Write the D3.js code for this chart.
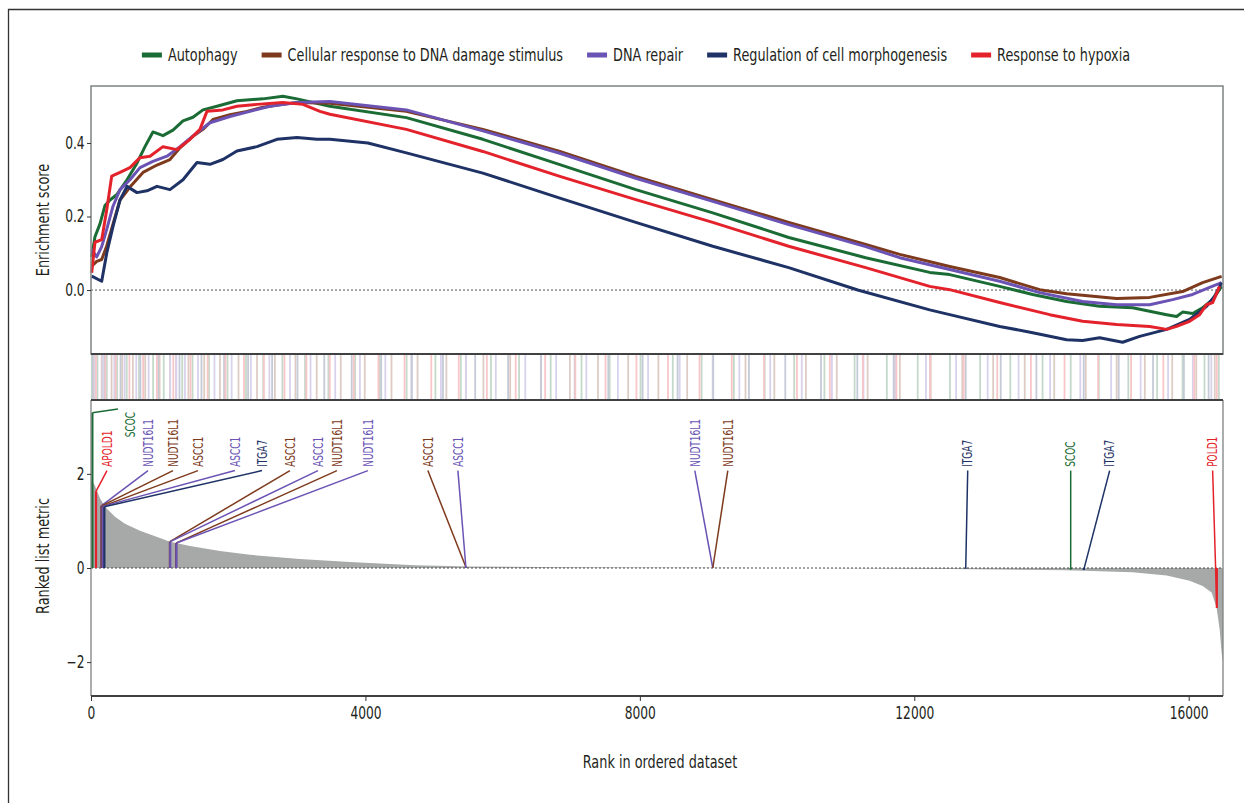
<!DOCTYPE html>
<html>
<head>
<meta charset="utf-8">
<script src="https://cdnjs.cloudflare.com/ajax/libs/d3/7.8.5/d3.min.js"></script>
<style>
  body { margin: 0; background: #fff; }
  svg text { font-family: "Liberation Sans Narrow", "DejaVu Sans Condensed", "Roboto Condensed", sans-serif; }
</style>
</head>
<body>
<div id="chart"></div>
<script>
// gene sets (legend order)
var setNames = ["Autophagy", "Cellular response to DNA damage stimulus", "DNA repair",
                "Regulation of cell morphogenesis", "Response to hypoxia"];
var setColors = ["#1b6b35", "#7d3a1c", "#6a53b4", "#1e3266", "#e4222b"];

// running enrichment score as [rank, score]
var esAutophagy = [[10,0.09],[58,0.145],[131,0.18],[204,0.23],[277,0.245],[379,0.26],[525,0.30],[670,0.345],
  [787,0.39],[903,0.43],[1049,0.42],[1195,0.435],[1341,0.46],[1486,0.47],[1632,0.49],[1836,0.50],[2127,0.515],
  [2506,0.52],[2798,0.527],[3002,0.52],[3482,0.50],[4597,0.469],[5712,0.41],[6834,0.341],[7941,0.273],
  [9063,0.21],[10170,0.143],[11292,0.088],[12225,0.048],[12516,0.042],[13245,0.01],[13726,-0.012],
  [14221,-0.031],[14702,-0.044],[15183,-0.048],[15678,-0.067],[15824,-0.072],[15911,-0.06],[16057,-0.064],
  [16203,-0.048],[16349,-0.026],[16480,0.01]];
var esCellular = [[10,0.065],[83,0.078],[156,0.083],[229,0.12],[321,0.18],[423,0.245],[568,0.28],[758,0.32],
  [962,0.34],[1151,0.355],[1297,0.387],[1486,0.418],[1632,0.437],[1778,0.464],[2025,0.477],[2273,0.486],
  [2506,0.497],[2798,0.505],[3002,0.51],[3482,0.508],[4597,0.486],[5712,0.437],[6834,0.377],[7941,0.309],
  [9063,0.246],[10170,0.184],[11292,0.124],[11788,0.097],[12516,0.064],[13245,0.034],[13828,0.001],
  [14221,-0.01],[14950,-0.023],[15431,-0.02],[15911,-0.004],[16203,0.02],[16480,0.037]];
var esDnaRepair = [[10,0.11],[83,0.09],[156,0.118],[229,0.165],[321,0.228],[423,0.273],[568,0.30],[714,0.333],
  [903,0.35],[1107,0.364],[1297,0.39],[1545,0.428],[1734,0.455],[2025,0.472],[2317,0.486],[2608,0.50],
  [3002,0.51],[3482,0.513],[4597,0.49],[5712,0.433],[6834,0.372],[7941,0.304],[9063,0.241],[10170,0.178],
  [11292,0.118],[11788,0.088],[12516,0.056],[13245,0.024],[13828,-0.007],[14454,-0.031],[14950,-0.04],
  [15431,-0.04],[15766,-0.026],[16057,-0.012],[16305,0.007],[16480,0.02]];
var esRegulation = [[10,0.038],[156,0.024],[229,0.10],[321,0.173],[423,0.245],[525,0.282],[670,0.265],[816,0.27],
  [962,0.282],[1151,0.273],[1341,0.30],[1545,0.347],[1734,0.342],[1923,0.355],[2127,0.378],[2419,0.39],
  [2710,0.41],[3002,0.415],[3293,0.41],[3482,0.41],[4036,0.40],[4597,0.373],[5712,0.318],[6834,0.25],
  [7941,0.184],[9063,0.119],[10170,0.061],[11176,0.0],[12225,-0.054],[12516,-0.067],[13245,-0.099],
  [13726,-0.116],[14221,-0.135],[14454,-0.137],[14702,-0.13],[15037,-0.142],[15285,-0.126],[15678,-0.107],
  [16013,-0.08],[16261,-0.044],[16378,-0.017],[16480,0.02]];
var esHypoxia = [[10,0.047],[58,0.13],[156,0.137],[229,0.218],[302,0.31],[423,0.32],[568,0.333],[714,0.36],
  [860,0.364],[1049,0.39],[1253,0.382],[1443,0.41],[1588,0.437],[1690,0.486],[1923,0.49],[2127,0.50],
  [2419,0.505],[2798,0.51],[3089,0.505],[3337,0.486],[3482,0.478],[4597,0.437],[5712,0.377],[6834,0.309],
  [7941,0.246],[9063,0.184],[10170,0.119],[11292,0.061],[12225,0.01],[12516,0.001],[13245,-0.034],
  [13974,-0.067],[14454,-0.085],[14950,-0.094],[15431,-0.099],[15678,-0.107],[15824,-0.099],[16013,-0.085],
  [16159,-0.067],[16261,-0.04],[16349,-0.034],[16451,0.01]];
var esSeries = [esAutophagy, esCellular, esDnaRepair, esRegulation, esHypoxia];

// hit positions of every set in the ranked list (the barcode strip)
var stripAutophagy = [12,95,230,380,520,700,905,1060,1330,1480,1720,1990,2260,2510,2790,3120,3460,3850,4210,
  4600,5020,5390,5830,6240,6700,7150,7560,8010,8480,8900,9370,9820,10250,10690,11130,11600,12050,12520,12960,
  13400,13870,14280,14690,15120,15540,15910,16230,16440];
var stripCellular = [40,155,300,455,610,790,1000,1150,1240,1420,1650,1880,2150,2420,2680,2980,3290,3640,3990,
  4380,4760,5180,5464,5720,6110,6560,6980,7390,7830,8270,8690,9063,9540,9960,10420,10870,11320,11790,12240,
  12700,13150,13610,14040,14500,14950,15360,15760,16110,16380];
var stripDnaRepair = [60,170,340,490,660,840,1155,1245,1370,1560,1800,2050,2330,2600,2900,3200,3560,3920,4290,
  4680,5100,5464,5900,6330,6780,7220,7680,8120,8580,9063,9450,9900,10360,10800,11260,11720,12170,12610,13070,
  13520,13980,14420,14870,15300,15700,16060,16330];
var stripRegulation = [25,195,430,720,980,1290,1610,1940,2290,2640,3010,3400,3800,4230,4670,5130,5600,6080,
  6560,7050,7540,8040,8550,9070,9590,10120,10640,11170,11700,12230,12750,13260,13780,14470,14980,15480,
  15930,16290];
var stripHypoxia = [73,210,360,560,760,960,1200,1450,1700,1960,2230,2520,2820,3140,3480,3830,4190,4570,4960,
  5360,5770,6190,6620,7060,7500,7950,8410,8870,9340,9810,10290,10770,11250,11740,12230,12720,13210,13700,
  14190,14680,15160,15630,16080,16410];
var stripSeries = [stripAutophagy, stripCellular, stripDnaRepair, stripRegulation, stripHypoxia];

// ranked list metric
var metricRank  = [0,58,131,204,350,495,714,1005,1151,1443,1880,2317,3045,3774,4720,5523,7000,9000,10500,
  11500,12500,13245,14221,14702,15183,15678,16013,16203,16334,16407,16451,16480,16500];
var metricValue = [1.9,1.75,1.48,1.3,1.09,0.94,0.79,0.64,0.56,0.47,0.36,0.28,0.19,0.13,0.06,0.03,0.015,0.005,
  0,-0.01,-0.02,-0.03,-0.05,-0.07,-0.09,-0.16,-0.27,-0.38,-0.52,-0.85,-1.3,-1.8,-2.0];

// labelled core genes
var hitGene   = ["APOLD1","SCOC","NUDT16L1","NUDT16L1","ASCC1","ASCC1","ITGA7","ASCC1","ASCC1","NUDT16L1",
  "NUDT16L1","ASCC1","ASCC1","NUDT16L1","NUDT16L1","ITGA7","SCOC","ITGA7","POLD1"];
var hitSet    = [4,0,2,1,1,2,3,1,2,1,2,1,2,2,1,3,0,3,4];
var hitRank   = [73,20,150,155,165,170,195,1150,1155,1240,1245,5464,5464,9063,9063,12750,14280,14470,16410];
var hitMetric = [1.63,3.3,1.32,1.32,1.31,1.31,1.3,0.56,0.56,0.53,0.53,0.02,0.02,0,0,-0.01,-0.03,-0.04,-0.85];
var labelRank = [233,568,831,1195,1559,2098,2492,2900,3308,3585,4036,4910,5348,8801,9282,12779,14280,14848,16349];
var labelMetric = [2.15,2.78,2.15,2.15,2.15,2.15,2.15,2.15,2.15,2.15,2.15,2.15,2.15,2.15,2.15,2.15,2.15,2.15,2.15];
var linkRank  = [233,393,831,1195,1559,2098,2492,2900,3308,3585,4036,4910,5348,8801,9282,12779,14280,14848,16349];
var linkMetric = [2.07,3.38,2.07,2.07,2.07,2.07,2.07,2.07,2.07,2.07,2.07,2.07,2.07,2.07,2.07,2.07,2.07,2.07,2.07];

var rankTicks = [0, 4000, 8000, 12000, 16000];
var esTicks = [0, 0.2, 0.4];
var metricTicks = [-2, 0, 2];

// layout
var width = 1244, height = 803;
var plotLeft = 91, plotRight = 1223;
var esTop = 86, esBottom = 354, stripBottom = 400, metricBottom = 696;
var squeeze = 0.84;   // fake a condensed face
var ink = "#231f20";

var svg = d3.select("#chart").append("svg")
    .attr("width", width)
    .attr("height", height);

// scales
var x = d3.scaleLinear().domain([0, 16500]).range([plotLeft, plotRight]);
var yES = d3.scaleLinear().domain([-0.174, 0.555]).range([esBottom, esTop]);
var yM = d3.scaleLinear().domain([-2.72, 3.57]).range([metricBottom, stripBottom]);

// outer frame
svg.append("path")
    .attr("d", "M8.5," + height + "V9.5H" + width)
    .attr("fill", "none")
    .attr("stroke", "#333")
    .attr("stroke-width", 1.3);

// legend
var legend = svg.append("g").attr("class", "legend");
var items = legend.selectAll("g")
    .data(setNames)
  .enter().append("g");
items.append("line")
    .attr("x1", 0).attr("x2", 20)
    .attr("y1", 0).attr("y2", 0)
    .attr("stroke", function(d, i) { return setColors[i]; })
    .attr("stroke-width", 5);
items.append("text")
    .attr("x", 26 / squeeze)
    .attr("dy", "0.35em")
    .attr("transform", "scale(" + squeeze + ",1)")
    .style("font-size", "17px")
    .style("fill", ink)
    .text(function(d) { return d; });
var offsets = [], total = 0;
items.each(function(d, i) {
  var w = 26 + this.querySelector("text").getComputedTextLength() * squeeze;
  offsets.push(total);
  total += w + (i < setNames.length - 1 ? 24 : 0);
});
var legendStart = 636 - total / 2;
items.attr("transform", function(d, i) { return "translate(" + (legendStart + offsets[i]) + ",55)"; });

// enrichment score panel
var esLine = d3.line()
    .x(function(d) { return x(d[0]); })
    .y(function(d) { return yES(d[1]); });

svg.append("line")
    .attr("x1", plotLeft).attr("x2", plotRight)
    .attr("y1", yES(0)).attr("y2", yES(0))
    .attr("stroke", "#555")
    .attr("stroke-dasharray", "2,2");

svg.append("g").selectAll("path")
    .data(esSeries)
  .enter().append("path")
    .attr("d", esLine)
    .attr("fill", "none")
    .attr("stroke", function(d, i) { return setColors[i]; })
    .attr("stroke-width", 3)
    .attr("stroke-linejoin", "round");

svg.append("rect")
    .attr("x", plotLeft).attr("y", esTop)
    .attr("width", plotRight - plotLeft).attr("height", esBottom - esTop)
    .attr("fill", "none")
    .attr("stroke", "#7f8283")
    .attr("stroke-width", 1.5);

// barcode strip
var strip = svg.append("g");
stripSeries.forEach(function(ranks, s) {
  var pale = d3.interpolateRgb(setColors[s], "#ffffff")(0.74);
  strip.selectAll(null)
      .data(ranks)
    .enter().append("line")
      .attr("x1", function(d) { return x(d); })
      .attr("x2", function(d) { return x(d); })
      .attr("y1", esBottom)
      .attr("y2", stripBottom)
      .attr("stroke", pale)
      .attr("stroke-width", 1.8);
});

// ranked list metric panel
var metricData = metricRank.map(function(r, i) { return [r, metricValue[i]]; });
var area = d3.area()
    .x(function(d) { return x(d[0]); })
    .y0(yM(0))
    .y1(function(d) { return yM(d[1]); });

svg.append("path")
    .datum(metricData)
    .attr("d", area)
    .attr("fill", "#a7a9a9");

svg.append("line")
    .attr("x1", plotLeft).attr("x2", plotRight)
    .attr("y1", yM(0)).attr("y2", yM(0))
    .attr("stroke", "#444")
    .attr("stroke-dasharray", "2,2");

// hit bars, connectors and gene labels
var hits = hitGene.map(function(g, i) { return i; });
var ann = svg.append("g");
ann.selectAll(".bar")
    .data(hits)
  .enter().append("line")
    .attr("x1", function(i) { return x(hitRank[i]); })
    .attr("x2", function(i) { return x(hitRank[i]); })
    .attr("y1", yM(0))
    .attr("y2", function(i) { return yM(hitMetric[i]); })
    .attr("stroke", function(i) { return setColors[hitSet[i]]; })
    .attr("stroke-width", 2.2);
ann.selectAll(".link")
    .data(hits)
  .enter().append("line")
    .attr("x1", function(i) { return x(hitRank[i]); })
    .attr("y1", function(i) { return yM(hitMetric[i]); })
    .attr("x2", function(i) { return x(linkRank[i]); })
    .attr("y2", function(i) { return yM(linkMetric[i]); })
    .attr("stroke", function(i) { return setColors[hitSet[i]]; })
    .attr("stroke-width", 1.5);
ann.selectAll("text")
    .data(hits)
  .enter().append("text")
    .attr("transform", function(i) {
      return "translate(" + x(labelRank[i]) + "," + yM(labelMetric[i]) + ") rotate(-90) scale(0.74,1)";
    })
    .attr("dy", "0.35em")
    .style("font-size", "13.5px")
    .style("fill", function(i) { return setColors[hitSet[i]]; })
    .text(function(i) { return hitGene[i]; });

// panel frames
svg.append("path")
    .attr("d", "M" + plotLeft + "," + stripBottom + "V" + metricBottom +
               "M" + plotRight + "," + stripBottom + "V" + metricBottom)
    .attr("stroke", "#7f8283")
    .attr("stroke-width", 1.3);
svg.append("path")
    .attr("d", "M" + plotLeft + "," + esBottom + "H" + plotRight +
               "M" + plotLeft + "," + stripBottom + "H" + plotRight +
               "M" + plotLeft + "," + metricBottom + "H" + plotRight)
    .attr("stroke", "#3f4142")
    .attr("stroke-width", 2.2);

// axes
var esAxis = svg.append("g")
    .attr("transform", "translate(" + plotLeft + ",0)")
    .call(d3.axisLeft(yES).tickValues(esTicks).tickFormat(d3.format(".1f")).tickSize(4).tickPadding(4));
var mAxis = svg.append("g")
    .attr("transform", "translate(" + plotLeft + ",0)")
    .call(d3.axisLeft(yM).tickValues(metricTicks).tickFormat(d3.format("d")).tickSize(4).tickPadding(4));
var xAxis = svg.append("g")
    .attr("transform", "translate(0," + metricBottom + ")")
    .call(d3.axisBottom(x).tickValues(rankTicks).tickFormat(d3.format("d")).tickSize(5).tickPadding(6));

[esAxis, mAxis, xAxis].forEach(function(a) {
  a.select(".domain").remove();
  a.selectAll(".tick line").attr("stroke", "#333");
  a.selectAll(".tick text")
      .attr("transform", "scale(0.8,1)")
      .style("font-size", "17px")
      .style("font-family", "\"Liberation Sans Narrow\", \"DejaVu Sans Condensed\", sans-serif")
      .style("fill", ink);
});

// axis titles
svg.append("text")
    .attr("transform", "translate(49," + ((esTop + esBottom) / 2) + ") rotate(-90) scale(" + squeeze + ",1)")
    .attr("text-anchor", "middle")
    .style("font-size", "17px")
    .style("fill", ink)
    .text("Enrichment score");
svg.append("text")
    .attr("transform", "translate(49,556) rotate(-90) scale(" + squeeze + ",1)")
    .attr("text-anchor", "middle")
    .style("font-size", "17px")
    .style("fill", ink)
    .text("Ranked list metric");
svg.append("text")
    .attr("transform", "translate(" + ((plotLeft + plotRight) / 2 + 3) + ",768) scale(" + squeeze + ",1)")
    .attr("text-anchor", "middle")
    .style("font-size", "17px")
    .style("fill", ink)
    .text("Rank in ordered dataset");
</script>
</body>
</html>
